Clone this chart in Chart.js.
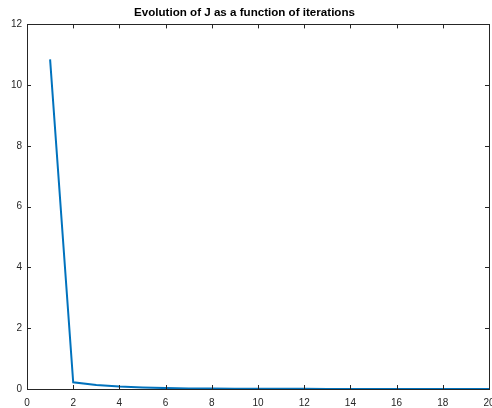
<!DOCTYPE html>
<html><head><meta charset="utf-8">
<script src="https://cdn.jsdelivr.net/npm/chart.js@4.4.1/dist/chart.umd.min.js"></script>
<style>html,body{margin:0;padding:0;background:#fff}#wrap{width:492px;height:408px}</style>
</head><body><div id="wrap"><canvas id="c" width="492" height="408"></canvas></div>
<script>
const iterations = [1,2,3,4,5,6,7,8,9,10,11,12,13,14,15,16,17,18,19,20];
const jValues = [10.85,0.22,0.13,0.08,0.05,0.03,0.02,0.015,0.01,0.008,0.006,0.005,0.004,0.003,0.003,0.002,0.002,0.002,0.001,0.001];
const titleText = 'Evolution of J as a function of iterations';

const axisColor = '#262626';
const boxPlugin = {
  id: 'box',
  afterDraw(chart) {
    const {ctx, chartArea: a, scales} = chart;
    ctx.save();
    ctx.strokeStyle = axisColor;
    ctx.lineWidth = 1;
    ctx.strokeRect(Math.round(a.left)+0.5, Math.round(a.top)+0.5, Math.round(a.right-a.left), Math.round(a.bottom-a.top));
    const L = 4;
    ctx.beginPath();
    scales.x.ticks.forEach(t => {
      const px = Math.round(scales.x.getPixelForValue(t.value)) + 0.5;
      ctx.moveTo(px, a.bottom); ctx.lineTo(px, a.bottom - L);
      ctx.moveTo(px, a.top); ctx.lineTo(px, a.top + L);
    });
    scales.y.ticks.forEach(t => {
      const py = Math.round(scales.y.getPixelForValue(t.value)) + 0.5;
      ctx.moveTo(a.left, py); ctx.lineTo(a.left + L, py);
      ctx.moveTo(a.right, py); ctx.lineTo(a.right - L, py);
    });
    ctx.stroke();
    ctx.restore();
  }
};

new Chart(document.getElementById('c'), {
  type: 'line',
  data: {
    labels: iterations,
    datasets: [{
      data: iterations.map((x, i) => ({x: x, y: jValues[i]})),
      borderColor: '#0072BD',
      borderWidth: 2,
      pointRadius: 0,
      fill: false,
      tension: 0
    }]
  },
  options: {
    responsive: false,
    animation: false,
    devicePixelRatio: 1,
    layout: {padding: {left: 0, right: 3, top: 0, bottom: 0}},
    plugins: {
      legend: {display: false},
      tooltip: {enabled: false},
      title: {
        display: true,
        text: titleText,
        color: '#000',
        font: {family: 'Liberation Sans, Arial, sans-serif', size: 11.6, weight: 'bold'},
        padding: {top: 6, bottom: 4.5}
      }
    },
    scales: {
      x: {
        type: 'linear', min: 0, max: 20,
        grid: {display: false, drawTicks: false},
        border: {display: false},
        ticks: {stepSize: 2, color: axisColor, padding: 8, maxRotation: 0,
                font: {family: 'Liberation Sans, Arial, sans-serif', size: 10}},
        afterFit(s) { s.height = 19; s.paddingLeft = 0; s.paddingRight = 0; }
      },
      y: {
        min: 0, max: 12,
        grid: {display: false, drawTicks: false},
        border: {display: false},
        ticks: {stepSize: 2, color: axisColor, padding: 5,
                font: {family: 'Liberation Sans, Arial, sans-serif', size: 10}},
        afterFit(s) { s.width = 27; s.paddingTop = 0; s.paddingBottom = 0; }
      }
    }
  },
  plugins: [boxPlugin]
});
</script></body></html>
